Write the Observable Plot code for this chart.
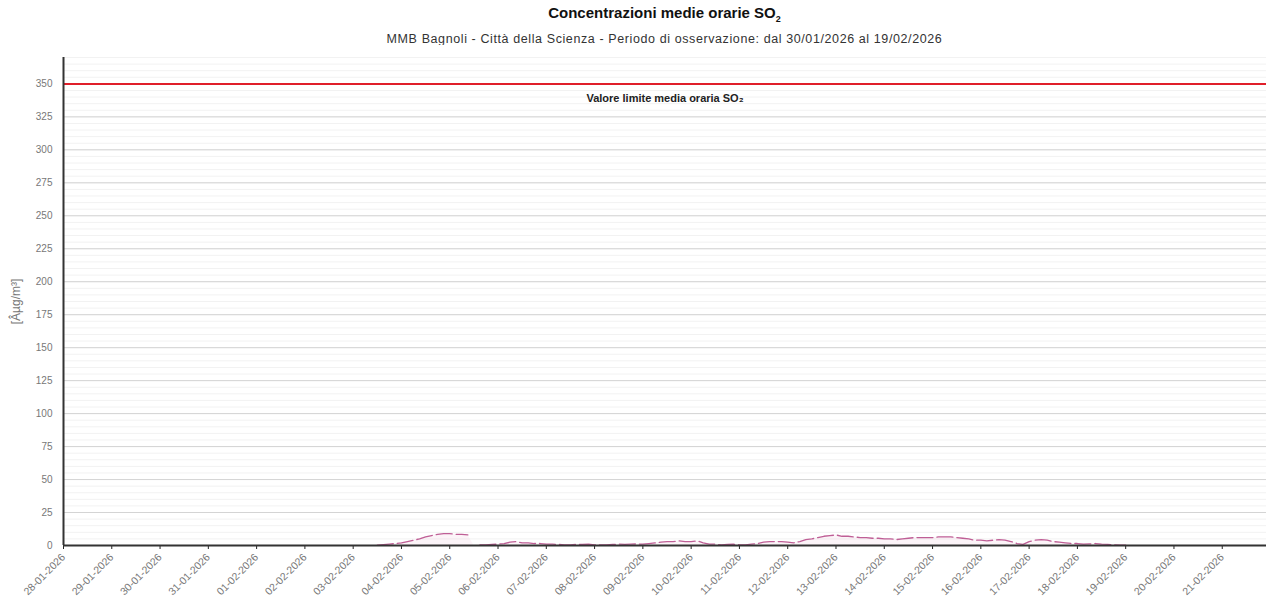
<!DOCTYPE html>
<html>
<head>
<meta charset="utf-8">
<script src="https://cdn.jsdelivr.net/npm/d3@7"></script>
<script src="https://cdn.jsdelivr.net/npm/@observablehq/plot@0.6"></script>
<style>
  html, body { margin: 0; padding: 0; background: #fff; }
  body { width: 1267px; height: 613px; overflow: hidden; font-family: "Liberation Sans", Arial, sans-serif; }
  #title { position: absolute; top: 4px; left: 63px; width: 1203px; text-align: center; font-size: 15px; font-weight: bold; color: #111; }
  #subtitle { position: absolute; top: 32px; left: 63px; width: 1203px; text-align: center; font-size: 12.5px; letter-spacing: 0.6px; color: #333; }
  #chart { position: absolute; top: 45px; left: 0; }
</style>
</head>
<body>
<div id="title">Concentrazioni medie orarie SO<sub style="font-size:9px">2</sub></div>
<div id="subtitle">MMB Bagnoli - Città della Scienza - Periodo di osservazione: dal 30/01/2026 al 19/02/2026</div>
<div id="chart"></div>
<script>
// Days of observation with SO2 values (µg/m³) read every 3 hours (00,03,06,...,21)
const days = ["2026-02-03","2026-02-04","2026-02-05","2026-02-06","2026-02-07","2026-02-08","2026-02-09",
  "2026-02-10","2026-02-11","2026-02-12","2026-02-13","2026-02-14","2026-02-15","2026-02-16",
  "2026-02-17","2026-02-18","2026-02-19"];
const hours = [0, 3, 6, 9, 12, 15, 18, 21];
const so2 = [
  [null, null, null, null, 0.3, 0.6, 1, 1.5],
  [2, 3, 4, 5, 6.5, 7.5, 8.5, 9],
  [9, 8.5, 8.5, 8, null, 0.5, 0.5, 0.8],
  [1, 1.5, 2.5, 3, 2, 2, 1.5, 1.5],
  [1, 1, 0.8, 0.5, 0.5, 0.8, 0.8, 1],
  [0.5, 0.5, 0.5, 0.8, 1, 0.8, 1, 1.2],
  [1, 1.5, 2, 2.5, 3, 3, 3.5, 3],
  [3, 3.5, 2, 1, 1, 0.5, 0.8, 1],
  [0.5, 0.5, 1, 1.5, 2.5, 3, 3, 3],
  [2.5, 2, 3, 4.5, 5, 6, 7, 7.5],
  [8, 7, 7, 6.5, 6, 6, 5.5, 5.5],
  [5, 5, 4.5, 5, 5.5, 6, 6, 6],
  [6, 6.5, 6.5, 6.5, 6, 5.5, 5, 4],
  [4, 3.5, 4, 4.5, 4, 3, 1.5, 0.8],
  [3, 4, 4.5, 4, 3, 2.5, 2, 1.5],
  [1.5, 1, 1.2, 1.5, 1, 0.8, 0.5, 0.3],
  [0.2, null, null, null, null, null, null, null]
];
const limitValue = 350;
const limitLabel = "Valore limite media oraria SO₂";
const yTicks = [0, 25, 50, 75, 100, 125, 150, 175, 200, 225, 250, 275, 300, 325, 350];
const yMinor = d3.range(0, 371, 5);
const xStart = "2026-01-28", xEnd = "2026-02-21T22:00";
const dayTicks = ["2026-01-28","2026-01-29","2026-01-30","2026-01-31","2026-02-01","2026-02-02","2026-02-03",
  "2026-02-04","2026-02-05","2026-02-06","2026-02-07","2026-02-08","2026-02-09","2026-02-10","2026-02-11",
  "2026-02-12","2026-02-13","2026-02-14","2026-02-15","2026-02-16","2026-02-17","2026-02-18","2026-02-19",
  "2026-02-20","2026-02-21"].map(d => new Date(d + "T00:00Z"));

const data = [];
days.forEach((d, i) => hours.forEach((h, j) => {
  data.push({t: new Date(d + "T" + String(h).padStart(2, "0") + ":00Z"), v: so2[i][j]});
}));

const fmt = d3.utcFormat("%d-%m-%Y");

const chart = Plot.plot({
  width: 1267,
  height: 568,
  marginTop: 12,
  marginLeft: 63,
  marginRight: 1,
  marginBottom: 68,
  style: {fontFamily: "Liberation Sans, Arial, sans-serif", fontSize: "10px", color: "#777", background: "#fff"},
  x: {type: "utc", domain: [new Date(xStart + "T00:00Z"), new Date(xEnd + "Z")]},
  y: {domain: [0, 370]},
  marks: [
    Plot.ruleY(yMinor, {stroke: "#f2f2f2", strokeWidth: 1}),
    Plot.ruleY(yTicks, {stroke: "#d4d4d4", strokeWidth: 1}),
    Plot.areaY(data, {x: "t", y: "v", fill: "#e6a3c8", fillOpacity: 0.12}),
    Plot.lineY(data, {x: "t", y: "v", stroke: "#bf5f96", strokeWidth: 1.3, strokeDasharray: "16,4"}),
    Plot.ruleY([limitValue], {stroke: "#e01f2a", strokeWidth: 2}),
    Plot.text([limitLabel], {frameAnchor: "top", y: limitValue, dy: 10,
      text: d => d, fontSize: 11, fontWeight: "bold", fill: "#222", style: {letterSpacing: "0.6px"}}),
    Plot.axisY({ticks: yTicks, tickSize: 0, tickPadding: 11, label: "[Âµg/m³]", labelAnchor: "center",
      labelArrow: false, labelOffset: 52, fontSize: 10, fill: "#777"}),
    Plot.axisX({ticks: dayTicks, tickFormat: fmt, tickRotate: -45, tickSize: 4, tickPadding: 6,
      stroke: "#222", label: null, fontSize: 10.5, fill: "#777"}),
    Plot.ruleX([new Date(xStart + "T00:00Z")], {stroke: "#333", strokeWidth: 2}),
    Plot.ruleY([0], {stroke: "#333", strokeWidth: 2})
  ]
});
// enlarge the y axis title
chart.querySelectorAll("g[aria-label='y-axis label'] text").forEach(t => t.setAttribute("font-size", "12"));
document.getElementById("chart").appendChild(chart);
</script>
</body>
</html>
